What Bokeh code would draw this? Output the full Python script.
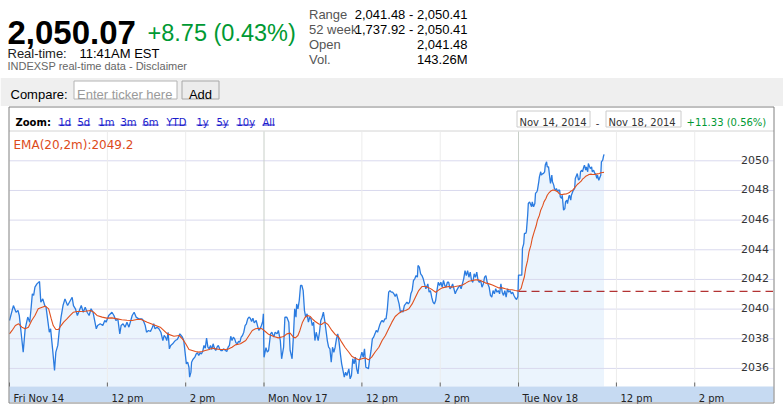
from bokeh.plotting import figure
from bokeh.models import Range1d
from bokeh.core.properties import value
from bokeh.embed import file_html
from bokeh.resources import INLINE

# ---------------- data (minutes since Fri 9:30, 390 per session) ----------------
MINUTES = [0, 6, 10, 13, 15, 21, 24, 28, 31, 33, 35, 37, 39, 42, 46, 48, 51, 54, 56, 59, 61, 63, 66, 69, 71, 74, 76, 79, 82, 85, 89, 96, 98, 101, 104, 107, 110, 113, 116, 119, 122, 125, 128, 130, 133, 135, 139, 143, 146, 148, 152, 157, 160, 163, 166, 169, 171, 174, 177, 180, 183, 188, 191, 194, 198, 203,
           205, 208, 210, 213, 216, 219, 221, 223, 226, 229, 232, 235, 237, 239, 241, 243, 245, 247, 250, 252, 254, 257, 259, 261, 263, 265, 267, 269, 271, 273, 275, 276, 278, 279, 281, 284, 286, 288, 290, 292, 294, 296, 298, 300, 302, 304, 306, 308, 310, 312, 314, 316, 318, 320, 322, 324, 326, 328, 331, 333, 335, 337, 339, 341, 343, 345, 347, 349, 351, 353, 355, 357, 359, 361, 363, 365, 367, 369, 371, 373, 375, 378, 380, 382, 384, 386, 388, 389,
           390, 393, 395, 397, 400, 402, 405, 407, 410, 412, 415, 417, 420, 422, 425, 428, 430, 433, 435, 437, 439, 440, 442, 444, 446, 448, 450, 452, 454, 456, 458, 460, 462, 464, 466, 468, 470, 473, 475, 477, 479, 481, 483, 485, 487, 489, 491, 493, 495, 497, 499, 501, 503, 505, 507, 509, 511, 513, 515, 517, 520, 522, 524, 526, 528, 530, 532, 534, 536, 538, 540, 542, 544, 546, 548, 550, 552, 554, 556, 558, 560, 562, 564, 567, 569, 571, 573, 575, 577, 579, 581, 583, 585, 587, 589, 591, 593, 595,
           597, 599, 601, 603, 605, 607, 609, 611, 613, 615, 617, 619, 621, 623, 625, 626, 628, 630, 632, 634, 636, 638, 641, 643, 645, 647, 649, 651, 653, 655, 657, 659, 661, 663, 665, 667, 669, 671, 673, 675, 677, 679, 681, 683, 685, 688, 690, 692, 694, 696, 698, 700, 702, 704, 706, 708, 710, 712, 714, 716, 718, 720, 722, 724, 726, 728, 730, 732, 735, 737, 739, 741, 743, 745, 747, 749, 751, 753, 755, 757, 759, 761, 763, 765, 767, 769, 771, 773, 775, 777, 779,
           780, 783, 785, 786, 788, 789, 791, 792, 794, 795, 797, 798, 800, 801, 803, 805, 806, 808, 809, 811, 812, 814, 815, 817, 818, 820, 821, 823, 824, 826, 828, 829, 831, 832, 834, 835, 837, 838, 840, 841, 843, 844, 846, 847, 849, 851, 852, 854, 855, 857, 858, 860, 861, 863, 864, 866, 867, 869, 870, 872, 874, 875, 877, 878, 880, 881, 883, 884, 886, 887, 889, 890, 892, 893, 895, 897, 898, 900, 901, 903, 904, 906, 907, 909, 910, 911]
PRICE = [2039.23, 2040.24, 2039.79, 2039.91, 2039.57, 2037.10, 2038.67, 2039.46, 2039.12, 2040.02, 2041.03, 2040.92, 2041.48, 2041.70, 2041.86, 2040.47, 2040.69, 2040.24, 2040.13, 2039.12, 2038.44, 2038.67, 2037.32, 2035.86, 2037.10, 2037.55, 2038.44, 2039.46, 2040.24, 2040.69, 2040.24, 2040.80, 2040.24, 2040.02, 2039.57, 2039.91, 2040.24, 2039.79, 2040.13, 2039.79, 2039.57, 2040.02, 2039.79, 2039.34, 2038.67, 2038.89, 2039.01, 2038.89, 2039.23, 2039.12, 2039.57, 2039.79, 2039.57, 2039.23, 2039.34, 2038.33, 2038.89, 2039.01, 2038.78, 2039.12, 2038.78, 2039.57, 2039.79, 2039.46, 2039.34, 2039.34,
         2039.23, 2038.89, 2038.44, 2038.56, 2038.49, 2038.78, 2039.01, 2038.67, 2038.78, 2038.67, 2038.44, 2037.88, 2038.22, 2038.11, 2037.88, 2038.44, 2037.32, 2037.55, 2037.66, 2037.77, 2037.88, 2037.95, 2038.11, 2038.33, 2038.22, 2038.11, 2037.88, 2037.10, 2036.31, 2036.42, 2036.08, 2035.41, 2035.75, 2036.42, 2036.60, 2036.76, 2036.98, 2037.05, 2036.87, 2037.05, 2036.98, 2037.14, 2037.55, 2037.37, 2038.04, 2037.43, 2037.32, 2037.55, 2037.28, 2037.66, 2037.37, 2037.21, 2037.43, 2037.55, 2037.32, 2037.21, 2037.21, 2037.32, 2037.21, 2037.14, 2037.43, 2037.55, 2038.17, 2037.88, 2038.11, 2037.99, 2037.73, 2037.66, 2037.82, 2037.77, 2038.11, 2038.22, 2038.44, 2038.89, 2039.01, 2039.34, 2039.46, 2039.39, 2039.16, 2039.39, 2039.07, 2039.23, 2038.89, 2038.56, 2038.67, 2038.89, 2039.16, 2039.68,
         2036.75, 2037.40, 2037.10, 2037.21, 2038.33, 2038.44, 2038.11, 2038.44, 2038.33, 2038.56, 2037.88, 2036.65, 2037.43, 2039.45, 2039.45, 2039.12, 2037.21, 2036.65, 2038.11, 2040.02, 2039.45, 2040.35, 2040.02, 2040.58, 2041.59, 2041.59, 2041.25, 2039.90, 2039.45, 2039.68, 2039.12, 2039.45, 2039.34, 2038.89, 2039.12, 2037.88, 2038.44, 2037.88, 2038.44, 2039.23, 2039.45, 2039.79, 2039.23, 2038.56, 2037.88, 2037.43, 2037.32, 2036.42, 2037.43, 2037.09, 2037.43, 2037.99, 2038.33, 2037.77, 2036.98, 2036.31, 2035.86, 2035.41, 2035.75, 2035.52, 2035.97, 2035.30, 2035.52, 2036.65, 2036.31, 2036.76, 2035.97, 2035.63, 2036.53, 2036.76, 2037.09, 2036.76, 2037.32, 2036.08, 2036.04, 2035.97, 2036.65, 2037.21, 2037.99, 2038.11, 2038.33, 2038.56, 2038.44, 2038.89, 2039.12, 2039.23, 2039.12, 2039.34, 2039.34, 2040.02, 2041.14, 2041.25, 2041.14, 2041.14, 2041.03, 2040.86, 2041.03, 2040.69,
         2040.35, 2039.79, 2039.90, 2039.79, 2040.24, 2040.35, 2040.47, 2040.35, 2040.47, 2041.03, 2041.25, 2041.93, 2042.04, 2042.26, 2042.15, 2042.94, 2042.83, 2042.38, 2042.26, 2042.04, 2041.70, 2041.37, 2041.70, 2041.14, 2041.25, 2040.80, 2040.47, 2040.35, 2040.58, 2041.25, 2041.81, 2041.59, 2041.81, 2041.48, 2041.93, 2041.59, 2041.48, 2041.81, 2041.81, 2041.37, 2041.48, 2041.70, 2041.37, 2041.03, 2041.25, 2041.48, 2041.59, 2041.37, 2041.70, 2042.04, 2042.60, 2042.26, 2042.60, 2042.15, 2042.49, 2041.93, 2041.81, 2042.38, 2042.15, 2042.49, 2041.93, 2041.81, 2041.93, 2041.48, 2041.70, 2042.15, 2042.26, 2041.81, 2041.48, 2040.92, 2040.80, 2041.25, 2041.03, 2041.37, 2041.14, 2041.25, 2041.03, 2041.70, 2041.14, 2040.92, 2041.25, 2040.80, 2041.37, 2041.14, 2041.25, 2041.03, 2041.14, 2040.92, 2040.75, 2040.65, 2040.85,
         2042.29, 2042.29, 2042.29, 2044.09, 2044.42, 2045.10, 2045.10, 2045.21, 2046.33, 2047.12, 2047.23, 2047.12, 2046.90, 2047.23, 2046.90, 2047.12, 2047.80, 2047.91, 2048.02, 2048.58, 2048.92, 2049.26, 2049.03, 2049.14, 2049.14, 2049.26, 2049.71, 2049.93, 2049.59, 2049.59, 2048.81, 2048.47, 2049.03, 2048.58, 2048.36, 2048.13, 2048.02, 2048.13, 2047.91, 2048.02, 2048.02, 2047.57, 2047.46, 2047.68, 2046.67, 2046.78, 2047.23, 2047.35, 2047.12, 2047.57, 2047.68, 2047.35, 2047.68, 2047.91, 2048.02, 2048.13, 2048.81, 2049.03, 2049.14, 2048.69, 2048.81, 2049.26, 2049.37, 2049.26, 2049.59, 2049.71, 2049.37, 2049.59, 2049.26, 2049.82, 2049.59, 2049.48, 2049.59, 2049.26, 2049.37, 2049.14, 2049.14, 2048.81, 2049.03, 2048.69, 2048.81, 2049.03, 2049.93, 2050.04, 2050.27, 2050.43]

EMA_MINUTES = [0, 4, 9, 14, 19, 24, 29, 34, 39, 44, 50, 55, 60, 64, 67, 71, 75, 79, 83, 88, 93, 98, 103, 108, 116, 124, 129, 134, 142, 149, 157, 165, 172, 180, 188, 195, 201, 211, 221, 231, 242, 252, 260, 265, 270, 275, 280, 285, 290, 295, 300, 306, 311, 316, 323, 331, 336, 341, 346, 354, 362, 367, 372, 377, 382, 387,
               392, 397, 405, 412, 420, 425, 430, 435, 438, 442, 445, 449, 453, 457, 461, 464, 468, 474, 478, 483, 488, 494, 499, 504, 509, 514, 520, 525, 530, 535, 540, 545, 550, 555, 560, 566, 571, 576, 581, 586, 591, 596, 602, 607, 612, 617, 622, 627, 632, 638, 643, 648, 653, 658, 663, 668, 673, 678, 683, 689, 694, 699, 704, 709, 714, 719, 724, 729, 735, 740, 745, 750, 755, 760, 765, 770, 775, 780,
               784, 786, 789, 791, 794, 796, 799, 801, 804, 807, 809, 812, 814, 817, 819, 822, 824, 827, 830, 832, 835, 837, 840, 842, 845, 847, 850, 853, 855, 858, 860, 863, 865, 868, 870, 873, 876, 878, 881, 883, 886, 888, 891, 893, 896, 899, 901, 904, 906, 909, 911]
EMA_VALUES = [2038.33, 2038.56, 2038.89, 2039.01, 2038.78, 2038.67, 2038.78, 2039.23, 2039.57, 2040.02, 2040.13, 2040.20, 2040.02, 2039.34, 2038.89, 2038.62, 2038.62, 2038.89, 2039.12, 2039.34, 2039.57, 2039.79, 2039.84, 2039.84, 2039.86, 2039.91, 2039.79, 2039.57, 2039.46, 2039.39, 2039.41, 2039.34, 2039.28, 2039.25, 2039.23, 2039.30, 2039.32, 2039.12, 2038.94, 2038.78, 2038.33, 2038.17, 2038.22, 2037.99, 2037.66, 2037.28, 2037.21, 2037.14, 2037.10, 2037.14, 2037.21, 2037.28, 2037.37, 2037.32, 2037.28, 2037.28, 2037.32, 2037.43, 2037.59, 2037.66, 2037.88, 2038.22, 2038.56, 2038.67, 2038.71, 2038.67,
              2038.49, 2038.30, 2038.15, 2038.06, 2038.15, 2038.33, 2038.38, 2038.11, 2038.06, 2038.22, 2038.56, 2039.12, 2039.45, 2039.57, 2039.50, 2039.34, 2039.18, 2039.00, 2038.96, 2039.12, 2038.96, 2038.56, 2038.29, 2038.15, 2037.77, 2037.43, 2037.09, 2036.80, 2036.69, 2036.58, 2036.65, 2036.71, 2036.58, 2036.76, 2037.09, 2037.43, 2037.88, 2038.22, 2038.67, 2039.12, 2039.50, 2039.70, 2039.86, 2039.90, 2040.02, 2040.35, 2040.80, 2041.25, 2041.52, 2041.52, 2041.43, 2041.30, 2041.14, 2041.30, 2041.43, 2041.48, 2041.52, 2041.48, 2041.52, 2041.57, 2041.63, 2041.75, 2041.88, 2041.93, 2041.97, 2041.97, 2041.88, 2041.77, 2041.70, 2041.63, 2041.52, 2041.43, 2041.43, 2041.37, 2041.32, 2041.30, 2041.25, 2041.21,
              2041.39, 2041.73, 2042.18, 2042.74, 2043.30, 2043.86, 2044.31, 2044.76, 2045.21, 2045.62, 2046.00, 2046.33, 2046.67, 2046.96, 2047.23, 2047.46, 2047.68, 2047.86, 2047.98, 2048.02, 2048.02, 2047.98, 2047.91, 2047.80, 2047.73, 2047.73, 2047.75, 2047.77, 2047.80, 2047.86, 2047.95, 2048.02, 2048.13, 2048.29, 2048.40, 2048.51, 2048.63, 2048.76, 2048.87, 2048.96, 2049.03, 2049.08, 2049.10, 2049.08, 2049.08, 2049.10, 2049.12, 2049.14, 2049.19, 2049.21, 2049.22]

X_TICKS = [0, 150, 270, 390, 540, 660, 780, 930, 1050]
X_TICK_LABELS = ["Fri Nov 14", "12 pm", "2 pm", "Mon Nov 17", "12 pm", "2 pm", "Tue Nov 18", "12 pm", "2 pm"]
DAY_STARTS = [390, 780]
SESSION_END = 1170
Y_TICKS = [2036, 2038, 2040, 2042, 2044, 2046, 2048, 2050]
PREV_CLOSE = 2041.2

LAST_PRICE = "2,050.07"
CHANGE = "+8.75 (0.43%)"
STAT_LABELS = ["Range", "52 week", "Open", "Vol."]
STAT_VALUES = ["2,041.48 - 2,050.41", "1,737.92 - 2,050.41", "2,041.48", "143.26M"]
ZOOM_LINKS = ["1d", "5d", "1m", "3m", "6m", "YTD", "1y", "5y", "10y", "All"]
EMA_LABEL = "EMA(20,2m):2049.2"
DATE_FROM, DATE_TO, PERIOD_CHANGE = "Nov 14, 2014", "Nov 18, 2014", "+11.33 (0.56%)"

# ---------------- page geometry (page pixels; figure sits at the page origin) ----------------
W, H = 783, 404
PX_PER_MIN = 0.6526      # horizontal pixels per minute
X0_PAGE = 9.0            # page x of minute 0
PX_PER_PT = 14.83        # vertical pixels per index point
Y_REF_VAL, Y_REF_PAGE = 2050.0, 160.3


def fx(px):
    return (px - X0_PAGE) / PX_PER_MIN


def fy(py):
    return Y_REF_VAL - (py - Y_REF_PAGE) / PX_PER_PT


p = figure(width=W, height=H, output_backend="svg", toolbar_location=None, tools="",
           x_range=Range1d(fx(0), fx(W)), y_range=Range1d(fy(H), fy(0)),
           x_axis_location=None, y_axis_location=None, min_border=0,
           outline_line_color=None, background_fill_color="white", border_fill_color="white")
p.xgrid.visible = False
p.ygrid.visible = False

ARIAL = value("Liberation Sans")
VERD = value("DejaVu Sans")


def txt(x, y, s, size, color="#000000", font=ARIAL, style="normal", align="left"):
    p.text(x=[fx(x)], y=[fy(y)], text=[s], text_font=font, text_font_size=f"{size}px",
           text_color=color, text_font_style=style, text_align=align, text_baseline="alphabetic")


def box(l, r, t, b, fill, line):
    p.quad(left=[fx(l)], right=[fx(r)], top=[fy(t)], bottom=[fy(b)],
           fill_color=fill, line_color=line, line_width=1)


# ---------------- header ----------------
txt(7, 31.5, LAST_PRICE, 33, style="bold")
txt(147, 32, CHANGE, 23.5, color="#009933")
txt(7, 53, "Real-time:", 13, color="#222222")
txt(79, 53, "11:41AM EST", 13)
txt(7, 65.5, "INDEXSP real-time data - Disclaimer", 11, color="#666666")
for i, (lab, val) in enumerate(zip(STAT_LABELS, STAT_VALUES)):
    txt(308.5, 13.5 + 15 * i, lab, 13, color="#555555")
    txt(467, 13.5 + 15 * i, val, 13, align="right")

# compare bar
box(0, W, 77.5, 105.5, "#efefef", None)
txt(10, 94, "Compare:", 13)
box(73.5, 176.5, 80.5, 98.5, "white", "#b4b4b4")
txt(76.5, 94, "Enter ticker here", 13, color="#9a9a9a")
box(181.5, 218.5, 80.5, 98.5, "#ececec", "#a8a8a8")
txt(200, 94, "Add", 13, align="center")

# ---------------- chart box ----------------
box(8.5, 773.5, 106.5, 402.5, "white", None)
# zoom row
txt(15, 122, "Zoom:", 10, font=VERD, style="bold")
LINK_X = [58, 77, 98, 120, 142, 166, 196, 216, 236, 262]
CW = {"1": .636, "5": .636, "3": .636, "6": .636, "0": .636, "d": .635, "m": .974, "y": .592,
      "Y": .611, "T": .611, "D": .770, "A": .684, "l": .278}
for lx, lk in zip(LINK_X, ZOOM_LINKS):
    txt(lx, 122, lk, 10, color="#1a1acc", font=VERD)
    w = sum(CW[c] for c in lk) * 10
    p.segment(x0=[fx(lx)], x1=[fx(lx + w)], y0=[fy(124.5)], y1=[fy(124.5)], line_color="#1a1acc", line_width=1)
box(516.5, 589.5, 110.5, 126.5, "white", "#cccccc")
txt(519, 122, DATE_FROM, 10, color="#333333", font=VERD)
txt(597, 122, "-", 10, color="#333333", font=VERD, align="center")
box(605.5, 680.5, 110.5, 126.5, "white", "#cccccc")
txt(608, 122, DATE_TO, 10, color="#333333", font=VERD)
txt(686, 122, PERIOD_CHANGE, 10, color="#009933", font=VERD)
p.segment(x0=[fx(8.5)], x1=[fx(773.5)], y0=[fy(130.5)], y1=[fy(130.5)], line_color="#d4d4d4")

# price area fill
BAND_TOP = fy(386)
p.varea(x=MINUTES, y1=[BAND_TOP] * len(MINUTES), y2=PRICE, fill_color="#ebf4fd")

# grid lines
p.segment(x0=[fx(9)] * len(Y_TICKS), x1=[fx(773)] * len(Y_TICKS), y0=Y_TICKS, y1=Y_TICKS,
          line_color="#d9d9ee", line_width=1)
intraday = [t for t in X_TICKS if t not in DAY_STARTS and t != 0]
p.segment(x0=intraday, x1=intraday, y0=[BAND_TOP] * len(intraday), y1=[fy(131)] * len(intraday),
          line_color="#ececec", line_width=1)
p.segment(x0=DAY_STARTS, x1=DAY_STARTS, y0=[BAND_TOP] * len(DAY_STARTS), y1=[fy(131)] * len(DAY_STARTS),
          line_color="#c8cfc8", line_width=1)

# previous close
p.segment(x0=[DAY_STARTS[-1]], x1=[SESSION_END], y0=[PREV_CLOSE], y1=[PREV_CLOSE],
          line_color="#a00000", line_width=1, line_dash="8 5")

# series
p.line(MINUTES, PRICE, line_color="#2a7be0", line_width=1.3)
p.line(EMA_MINUTES, EMA_VALUES, line_color="#e0501e", line_width=1.1)

# EMA legend text
txt(13, 144, EMA_LABEL, 12, color="#dd4a1a", font=VERD)

# y labels (inside plot, right side)
p.text(x=[SESSION_END] * len(Y_TICKS), y=[t + 1.2 / PX_PER_PT for t in Y_TICKS],
       text=[str(t) for t in Y_TICKS], text_font=VERD, text_font_size="11px", text_color="#333333",
       text_align="right", text_baseline="alphabetic", x_offset=-4)

# x axis band
box(9, 773, 386, 401.5, "#c6daf2", None)
p.segment(x0=X_TICKS, x1=X_TICKS, y0=[BAND_TOP] * len(X_TICKS), y1=[fy(382)] * len(X_TICKS),
          line_color="#666666", line_width=1)
p.text(x=X_TICKS, y=[fy(397.5)] * len(X_TICKS), text=X_TICK_LABELS, text_font=VERD,
       text_font_size="10px", text_color="#222222", text_align="left", text_baseline="alphabetic",
       x_offset=4)

# outer border of chart box
box(8.5, 773.5, 106.5, 402.5, None, "#808080")

open("out.html", "w").write(file_html(p, INLINE))
